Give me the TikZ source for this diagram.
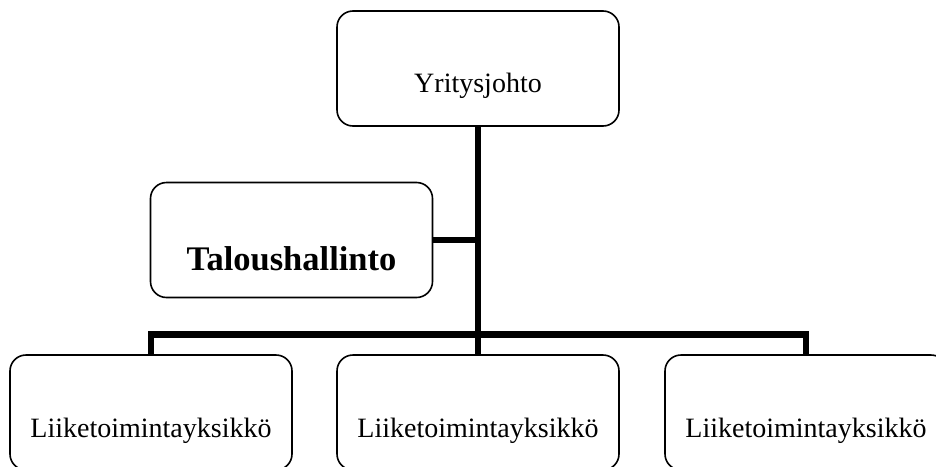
\documentclass[tikz,border=0pt]{standalone}
\usepackage{fontspec}
\setmainfont{Liberation Serif}
\begin{document}
\begin{tikzpicture}[x=1pt, y=-1pt,
  orgbox/.style={draw, line width=1.6pt, rounded corners=16pt,
    minimum width=282pt, minimum height=115pt, inner sep=0pt,
    text depth=0pt, font=\fontsize{28}{32}\selectfont},
  conn/.style={line width=6.5pt, line join=miter, line cap=butt}]
  \clip (0,0) rectangle (936,466);
  % management and finance
  \node[orgbox, text height=47pt] (top) at (478,68.5) {Yritysjohto};
  \node[orgbox, text height=60pt, font=\fontsize{34.5}{38}\selectfont\bfseries]
    (tal) at (291.5,240) {Taloushallinto};
  % business units
  \node[orgbox, text height=49pt] (b1) at (151,412.5) {Liiketoimintayksikkö};
  \node[orgbox, text height=49pt] (b2) at (478,412.5) {Liiketoimintayksikkö};
  \node[orgbox, text height=49pt] (b3) at (806,412.5) {Liiketoimintayksikkö};
  % connector tree
  \coordinate (hub) at (478,334.5);
  \draw[conn] (top.south) -- (hub);
  \draw[conn] (tal.east) -- (tal.east -| hub);
  \draw[conn] (b1.north) |- (hub) -| (b3.north);
  \draw[conn] (hub) -- (b2.north);
\end{tikzpicture}
\end{document}
